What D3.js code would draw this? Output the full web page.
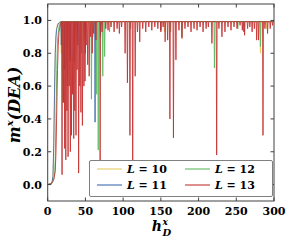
<!DOCTYPE html>
<html>
<head>
<meta charset="utf-8">
<script src="https://cdn.jsdelivr.net/npm/d3@7"></script>
<style>
  body { margin: 0; background: #fff; }
  svg { display: block; }
</style>
</head>
<body>
<svg id="chart" width="291" height="242"></svg>
<script>
// ---- data ----
const hTicks = [0, 50, 100, 150, 200, 250, 300];
const mTicks = [0.0, 0.2, 0.4, 0.6, 0.8, 1.0];
const sizes = [10, 11, 12, 13];
const plateau = 0.993;

// onset of order at small h_D, [h, m]
const riseL10 = [[0,0],[4,0.005],[6,0.02],[7,0.06],[8,0.2],[9,0.5],[10,0.8],[11,0.93],[13,0.98],[16,0.99]];
const riseL11 = [[0,0],[4,0.005],[6,0.02],[7,0.05],[8,0.25],[9,0.55],[10,0.8],[11,0.9],[12,0.95],[14,0.98],[17,0.99]];
const riseL12 = [[0,0],[5,0.005],[7,0.02],[9,0.05],[10,0.15],[11,0.4],[12,0.7],[13,0.88],[15,0.96],[17,0.99]];
const riseL13 = [[0,0],[5,0.005],[8,0.03],[10,0.08],[11,0.2],[12,0.45],[13,0.7],[14,0.85],[15,0.93],[17,0.98]];

// downward spikes below the plateau, [h, m]
const dipsL10 = [[18,0.8],[25,0.72],[35,0.85],[48,0.88],[60,0.9],[155,0.93],[282,0.8],[290,0.95]];
const dipsL11 = [[18,0.85],[22,0.7],[30,0.75],[40,0.85],[50,0.8],[62.8,0.38],[70,0.9],[150,0.94],[260,0.93]];
const dipsL12 = [[20,0.5],[26,0.6],[35,0.75],[45,0.8],[58,0.52],[65,0.55],[67,0.21],[73,0.66],[75.5,0.78],[82,0.93],
  [110,0.95],[163,0.93],[178,0.9],[221,0.71],[252,0.95],[282,0.84]];
const dipsL13 = [[19,0.06],[21,0.5],[22.5,0.22],[24,0.15],[25.5,0.45],[27,0.17],[28.5,0.6],[30,0.2],[31.5,0.3],
  [33,0.55],[34.5,0.28],[36,0.45],[37.5,0.3],[39,0.7],[41,0.07],[42.5,0.6],[44,0.44],[46,0.36],[48,0.6],[49.5,0.63],
  [51,0.85],[53,0.73],[55,0.66],[57,0.9],[59,0.8],[61,0.92],[64,0.88],[69.5,0.15],[72,0.93],[77,0.95],[80,0.94],
  [84,0.96],[88,0.93],[92,0.95],[95,0.92],[98,0.96],[102.6,0.8],[105.7,0.62],[109,0.3],[112.7,0.15],[116,0.66],
  [119,0.93],[122,0.87],[126,0.95],[130,0.93],[134,0.96],[138,0.94],[142,0.96],[146,0.95],[150,0.93],[153,0.96],
  [155.7,0.87],[159,0.88],[162,0.4],[166.7,0.285],[170,0.76],[174,0.94],[178,0.89],[182,0.95],[186,0.96],[190,0.93],
  [194,0.95],[198,0.94],[202,0.96],[206,0.93],[210,0.95],[213,0.96],[217.7,0.86],[224,0.18],[227,0.95],[231,0.9],
  [235,0.93],[239,0.96],[243,0.94],[247,0.96],[251,0.95],[255,0.97],[258,0.94],[261,0.91],[265,0.95],[268,0.96],
  [271,0.93],[274,0.95],[277,0.88],[279.5,0.88],[285.4,0.3],[288,0.95],[291.5,0.92],[295,0.95],[298,0.97]];

const lineColors = ["#e6cb5e", "#3a68ad", "#5cb85c", "#c42f2f"];

// ---- layout ----
const svg = d3.select("#chart");
const plotL = 47.7, plotR = 274, plotT = 4, plotB = 201;

const x = d3.scaleLinear().domain([0, 300]).range([plotL, plotR]);
const y = d3.scaleLinear().domain([-0.1, 1.1]).range([plotB, plotT]);

function buildSeries(rise, dips) {
  const pts = rise.slice();
  let last = rise[rise.length - 1][0];
  dips.forEach(([h, m]) => {
    const a = h - 0.6;
    if (a > last) pts.push([a, plateau]);
    pts.push([h, m]);
    pts.push([h + 0.6, plateau]);
    last = h + 0.6;
  });
  pts.push([300, plateau]);
  return pts;
}

const series = [
  buildSeries(riseL10, dipsL10),
  buildSeries(riseL11, dipsL11),
  buildSeries(riseL12, dipsL12),
  buildSeries(riseL13, dipsL13)
];

svg.append("defs").append("clipPath").attr("id", "clip")
  .append("rect")
  .attr("x", plotL).attr("y", plotT)
  .attr("width", plotR - plotL).attr("height", plotB - plotT);

const line = d3.line().x(d => x(d[0])).y(d => y(d[1]));

svg.append("g").attr("clip-path", "url(#clip)")
  .selectAll("path")
  .data(series)
  .join("path")
  .attr("d", line)
  .attr("fill", "none")
  .attr("stroke", (d, i) => lineColors[i])
  .attr("stroke-width", 1)
  .attr("stroke-opacity", 0.85)
  .attr("stroke-linejoin", "miter");

// frame + inward ticks on all sides
const tickLen = 3.5;
const axes = svg.append("g").attr("stroke", "#404040").attr("stroke-width", 1);
axes.append("rect")
  .attr("x", plotL).attr("y", plotT)
  .attr("width", plotR - plotL).attr("height", plotB - plotT)
  .attr("fill", "none");

hTicks.forEach(t => {
  axes.append("line").attr("x1", x(t)).attr("x2", x(t)).attr("y1", plotB).attr("y2", plotB - tickLen);
  axes.append("line").attr("x1", x(t)).attr("x2", x(t)).attr("y1", plotT).attr("y2", plotT + tickLen);
});
mTicks.forEach(t => {
  axes.append("line").attr("x1", plotL).attr("x2", plotL + tickLen).attr("y1", y(t)).attr("y2", y(t));
  axes.append("line").attr("x1", plotR).attr("x2", plotR - tickLen).attr("y1", y(t)).attr("y2", y(t));
});

const tickFont = "'DejaVu Serif', serif";

svg.append("g")
  .selectAll("text")
  .data(hTicks)
  .join("text")
  .attr("x", d => x(d))
  .attr("y", 215)
  .attr("text-anchor", "middle")
  .attr("font-family", tickFont)
  .attr("font-weight", "bold")
  .attr("font-size", 11)
  .text(d => d);

svg.append("g")
  .selectAll("text")
  .data(mTicks)
  .join("text")
  .attr("x", 42)
  .attr("y", d => y(d) + 4)
  .attr("text-anchor", "end")
  .attr("font-family", tickFont)
  .attr("font-weight", "bold")
  .attr("font-size", 11)
  .text(d => d.toFixed(1));

// x label: h_D^x
const xl = svg.append("g")
  .attr("font-family", tickFont)
  .attr("font-weight", "bold")
  .attr("font-style", "italic");
const hText = xl.append("text").attr("font-size", 14).attr("y", 231).text("h");
const hw = hText.node().getComputedTextLength();
const x0 = x(150) - (hw + 8) / 2;
hText.attr("x", x0);
xl.append("text").attr("font-size", 9).attr("x", x0 + hw + 0.5).attr("y", 225).text("x");
xl.append("text").attr("font-size", 10).attr("x", x0 + hw + 0.5).attr("y", 236).text("D");

// y label: m^x(DEA)
const yl = svg.append("text")
  .attr("transform", "translate(20,105) rotate(-90)")
  .attr("text-anchor", "middle")
  .attr("font-family", tickFont)
  .attr("font-weight", "bold")
  .attr("font-style", "italic")
  .attr("font-size", 16);
yl.append("tspan").text("m");
yl.append("tspan").attr("font-size", 10).attr("dy", -7).text("x");
yl.append("tspan").attr("dy", 7).text("(DEA)");

// legend
const lg = svg.append("g");
lg.append("rect")
  .attr("x", 89.5).attr("y", 160.5)
  .attr("width", 183).attr("height", 36)
  .attr("rx", 1.5)
  .attr("fill", "#fff")
  .attr("stroke", "#808080")
  .attr("stroke-width", 1);

const legX = [97, 185];
const legY = [169, 185];
sizes.forEach((L, i) => {
  const col = i < 2 ? 0 : 1;
  const row = i % 2;
  const lx = legX[col], ly = legY[row];
  lg.append("line")
    .attr("x1", lx).attr("x2", lx + 25)
    .attr("y1", ly).attr("y2", ly)
    .attr("stroke", lineColors[i])
    .attr("stroke-opacity", 0.6)
    .attr("stroke-width", 1.8);
  const t = lg.append("text")
    .attr("x", lx + 30).attr("y", ly + 4)
    .attr("font-family", tickFont)
    .attr("font-weight", "bold")
    .attr("font-size", 11);
  t.append("tspan").attr("font-style", "italic").text("L");
  t.append("tspan").text(" = " + L);
});
</script>
</body>
</html>
